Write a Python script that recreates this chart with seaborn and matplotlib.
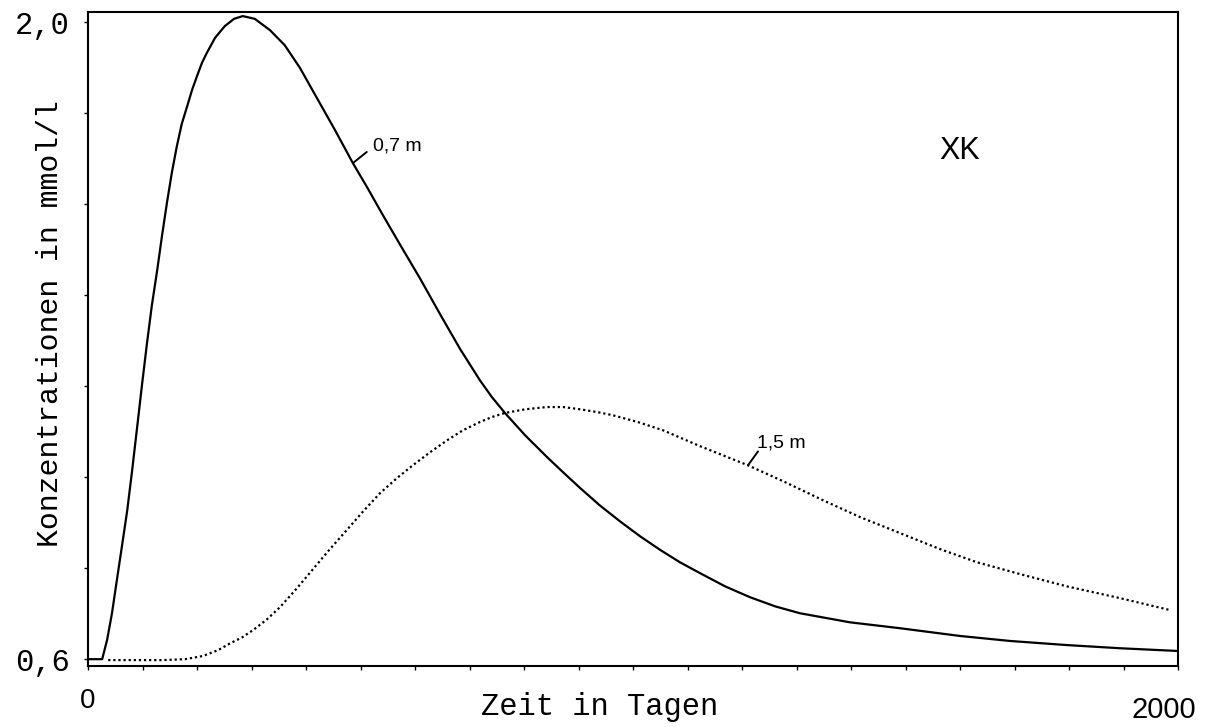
import matplotlib
matplotlib.use("Agg")
import matplotlib.pyplot as plt
import seaborn as sns
import pandas as pd

# ---- data ----
days_07 = [0, 26, 35, 44, 53, 62, 72, 81, 90, 99, 108, 117, 127, 136, 145, 154,
           163, 172, 182, 191, 200, 209, 218, 233, 251, 268, 284, 306, 334, 361,
           389, 420, 453, 486, 514, 539, 572, 609, 646, 683, 719, 741, 765, 802,
           844, 875, 903, 939, 976, 1013, 1050, 1086, 1123, 1169, 1215, 1261, 1306,
           1398, 1490, 1600, 1692, 1796, 1894, 2000]
conc_07 = [0.600, 0.600, 0.642, 0.701, 0.774, 0.846, 0.927, 1.015, 1.108, 1.202,
           1.292, 1.376, 1.455, 1.532, 1.604, 1.670, 1.727, 1.776, 1.815, 1.851,
           1.881, 1.910, 1.932, 1.965, 1.991, 2.007, 2.013, 2.007, 1.982, 1.949,
           1.899, 1.833, 1.763, 1.690, 1.633, 1.580, 1.512, 1.437, 1.358, 1.281,
           1.213, 1.176, 1.141, 1.092, 1.042, 1.007, 0.976, 0.938, 0.903, 0.870,
           0.840, 0.813, 0.789, 0.760, 0.736, 0.716, 0.701, 0.681, 0.668, 0.651,
           0.640, 0.631, 0.624, 0.618]

days_15 = [37, 138, 178, 211, 239, 261, 283, 303, 327, 352, 382, 413, 444, 475,
           505, 536, 567, 596, 628, 659, 688, 719, 741, 765, 802, 842, 872, 903,
           934, 963, 1009, 1055, 1123, 1211, 1279, 1349, 1417, 1490, 1563, 1631,
           1710, 1796, 1894, 1985]
conc_15 = [0.598, 0.598, 0.600, 0.607, 0.620, 0.635, 0.648, 0.664, 0.686, 0.714,
           0.754, 0.798, 0.842, 0.884, 0.925, 0.965, 0.998, 1.026, 1.055, 1.081,
           1.103, 1.121, 1.132, 1.141, 1.149, 1.154, 1.154, 1.149, 1.143, 1.136,
           1.121, 1.103, 1.068, 1.026, 0.989, 0.949, 0.912, 0.877, 0.842, 0.813,
           0.787, 0.760, 0.734, 0.708]

series_labels = ["0,7 m", "1,5 m"]
label_anchor_day = [486, 1211]
panel_label = "XK"
panel_label_pos = (1600, 1.716)

x_ticks = list(range(0, 2001, 100))
y_ticks = [0.6, 0.8, 1.0, 1.2, 1.4, 1.6, 1.8, 2.0]
y_tick_labels = {0.6: "0,6", 2.0: "2,0"}
x_label = "Zeit in Tagen"
y_label = "Konzentrationen in mmol/l"

# ---- style ----
sns.set_theme(style="white")
plt.rcParams["font.family"] = ["Liberation Mono", "DejaVu Sans"]
plt.rcParams["axes.edgecolor"] = "black"
plt.rcParams["axes.linewidth"] = 1.5

df07 = pd.DataFrame({"Tage": days_07, "c": conc_07})
df15 = pd.DataFrame({"Tage": days_15, "c": conc_15})

fig = plt.figure(figsize=(12.08, 7.27), dpi=100)
ax = fig.add_axes([0.07285, 0.0839, 0.90232, 0.8996])

sns.lineplot(data=df07, x="Tage", y="c", ax=ax, color="black", lw=1.6,
             sort=False, estimator=None)
sns.lineplot(data=df15, x="Tage", y="c", ax=ax, color="black", lw=1.6,
             sort=False, estimator=None, linestyle=(0, (1, 1.3)))

ax.set_xlim(0, 2000)
ax.set_ylim(0.585, 2.022)

ax.set_xticks(x_ticks)
ax.set_xticklabels(["0" if t == 0 else "" for t in x_ticks],
                   fontfamily="Liberation Sans", fontsize=20)
ax.set_yticks(y_ticks)
ax.set_yticklabels([y_tick_labels.get(round(t, 1), "") for t in y_ticks],
                   fontfamily="Liberation Mono", fontsize=22)
ax.tick_params(axis="x", direction="out", length=3, width=1, pad=13,
               colors="black", bottom=True)
ax.tick_params(axis="y", direction="out", length=3, width=1, pad=10,
               colors="black", left=True)
for s in ax.spines.values():
    s.set_color("black")
    s.set_linewidth(1.5)

ax.set_xlabel(x_label, fontsize=22, fontfamily="Liberation Mono", color="black")
ax.xaxis.label.set_va("center")
ax.xaxis.set_label_coords(0.469, -0.062)
ax.set_ylabel(y_label, fontsize=21.5, fontfamily="Liberation Mono", color="black")
ax.yaxis.label.set_va("center")
ax.yaxis.set_label_coords(-0.035, 0.523)

# "2000" end label, lower than the "0" label
ax.annotate(str(x_ticks[-1]), xy=(x_ticks[-1], 0), xycoords=("data", "axes fraction"),
            xytext=(-10, -31.5), textcoords="offset points", ha="center", va="center",
            fontsize=21, fontfamily="Liberation Sans", color="black",
            annotation_clip=False)

# curve labels with leader lines
anchors = [(days_07, conc_07), (days_15, conc_15)]
leader_off = [(10, 8), (7.2, 10)]
text_off = [(14.4, 12.2), (6.5, 15.8)]
for lab, d, (dx, cy), lo, to in zip(series_labels, label_anchor_day, anchors,
                                    leader_off, text_off):
    i = dx.index(d)
    pt = (dx[i], cy[i])
    ax.annotate("", xy=pt, xytext=lo, textcoords="offset points",
                arrowprops=dict(arrowstyle="-", lw=1.4, color="black",
                                shrinkA=0, shrinkB=0))
    ax.annotate(lab, xy=pt, xytext=to, textcoords="offset points",
                ha="left", va="center", fontsize=14,
                fontfamily="Liberation Sans", color="black")

ax.text(panel_label_pos[0], panel_label_pos[1], panel_label, ha="center",
        va="center", fontsize=22, fontfamily="Liberation Sans", color="black")

fig.savefig("out.png", dpi=100)
